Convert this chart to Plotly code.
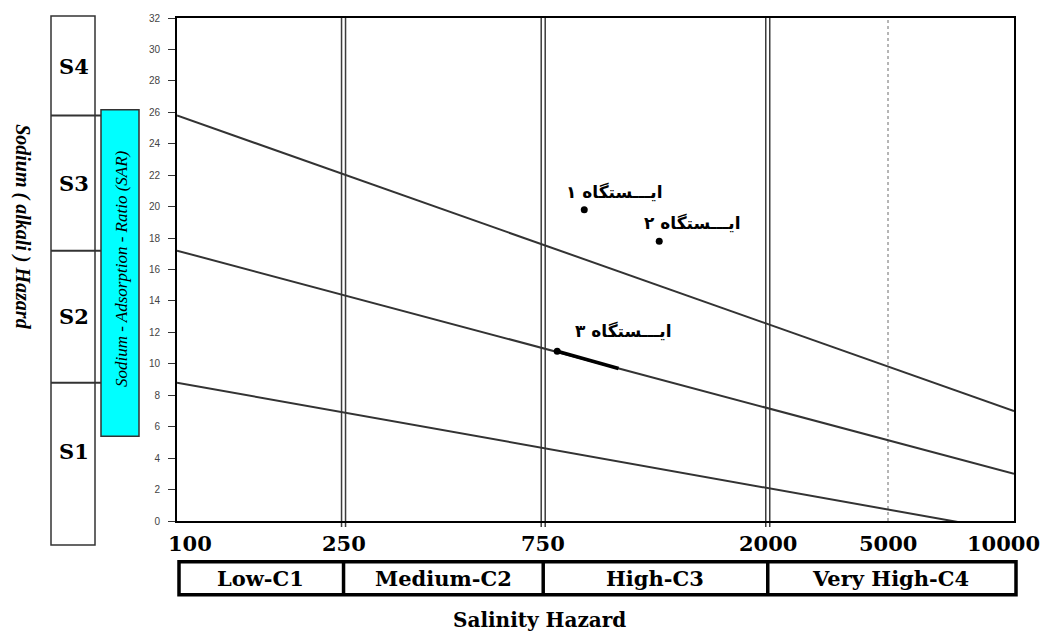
import math
import plotly.graph_objects as go

# ---- salinity (EC) axis: label positions and class boundaries ----
ec_tick_pos = [100, 250, 750, 2580, 5000, 10000]
ec_tick_text = ["100", "250", "750", "2000", "5000", "10000"]
class_edges = [100, 250, 750, 2580, 10000]
salinity_classes = ["Low-C1", "Medium-C2", "High-C3", "Very High-C4"]

# ---- sodium hazard boundary lines: SAR at EC = 100 and EC = 10000 ----
line_ec = [100, 10000]
sar_s3_s4 = [25.8, 7.0]
sar_s2_s3 = [17.2, 3.0]
sar_s1_s2 = [8.8, -0.7]
sodium_classes = ["S1", "S2", "S3", "S4"]

# ---- sampling stations ----
station_names = ["ایـــستگاه ۱", "ایـــستگاه ۲", "ایـــستگاه ۳"]
station_ec = [940, 1420, 810]
station_sar = [19.8, 17.8, 10.8]
# short bold stretch running along the S2/S3 line from station 3
trend3_ec = [810, 1135]
trend3_sar = [10.8, 9.7]

W, H = 1041, 632
ML, MR, MT, MB = 177, 27, 16, 111
PW, PH = W - ML - MR, H - MT - MB


def px_x(p):
    """page pixel column -> paper x"""
    return (p - ML) / PW


def px_y(p):
    """page pixel row -> paper y"""
    return (H - MB - p) / PH


SERIF_B = "DejaVu Serif"
DARK = "#333333"

fig = go.Figure()

# hazard boundary lines
for sar in (sar_s3_s4, sar_s2_s3, sar_s1_s2):
    fig.add_trace(go.Scatter(x=line_ec, y=sar, mode="lines",
                             line=dict(color=DARK, width=2),
                             hoverinfo="skip", showlegend=False))

fig.add_trace(go.Scatter(x=trend3_ec, y=trend3_sar, mode="lines",
                         line=dict(color="black", width=3.5),
                         hoverinfo="skip", showlegend=False))

fig.add_trace(go.Scatter(x=station_ec, y=station_sar, mode="markers",
                         marker=dict(color="black", size=7),
                         showlegend=False))

shapes = []
# double vertical lines at the salinity class boundaries
for edge in class_edges[1:-1]:
    shapes.append(dict(type="line", xref="x", yref="paper", x0=edge, x1=edge,
                       y0=-0.012, y1=1, layer="below",
                       line=dict(color="#3c3c3c", width=5.5)))
    shapes.append(dict(type="line", xref="x", yref="paper", x0=edge, x1=edge,
                       y0=-0.012, y1=1, layer="below",
                       line=dict(color="white", width=2.5)))
# dotted line at 5000
shapes.append(dict(type="line", xref="x", yref="paper", x0=5000, x1=5000,
                   y0=0, y1=1, layer="below",
                   line=dict(color="#b5b5b5", width=2, dash="dot")))

# sodium class column on the left
shapes.append(dict(type="rect", xref="paper", yref="paper",
                   x0=px_x(51), x1=px_x(95), y0=px_y(545), y1=px_y(14),
                   line=dict(color=DARK, width=1.5), fillcolor="white"))
for sar in (sar_s3_s4, sar_s2_s3, sar_s1_s2):
    shapes.append(dict(type="line", xref="paper", yref="y",
                       x0=px_x(51), x1=px_x(101), y0=sar[0], y1=sar[0],
                       line=dict(color=DARK, width=2)))
# SAR legend bar
shapes.append(dict(type="rect", xref="paper", yref="paper",
                   x0=px_x(101), x1=px_x(139), y0=px_y(436), y1=px_y(108),
                   line=dict(color=DARK, width=1.5), fillcolor="#00FFFF"))

# salinity class strip below the axis
strip_y0, strip_y1 = px_y(595), px_y(562)
shapes.append(dict(type="rect", xref="paper", yref="paper",
                   x0=px_x(179), x1=px_x(1016), y0=strip_y0, y1=strip_y1,
                   line=dict(color="black", width=3.5)))
for edge in class_edges[1:-1]:
    shapes.append(dict(type="line", xref="x", yref="paper", x0=edge, x1=edge,
                       y0=strip_y0, y1=strip_y1,
                       line=dict(color="black", width=3.5)))

annotations = []
# x tick labels
x_label_shift = {0: 13, len(ec_tick_pos) - 1: -11}
for i, (pos, txt) in enumerate(zip(ec_tick_pos, ec_tick_text)):
    annotations.append(dict(x=math.log10(pos), y=px_y(544), xref="x", yref="paper",
                            text=f"<b>{txt}</b>", showarrow=False,
                            xanchor="center", yanchor="middle",
                            xshift=x_label_shift.get(i, 0),
                            font=dict(family=SERIF_B, size=21, color="black")))
# salinity class names
for i, name in enumerate(salinity_classes):
    mid = (math.log10(class_edges[i]) + math.log10(class_edges[i + 1])) / 2
    annotations.append(dict(x=mid, y=(strip_y0 + strip_y1) / 2, xref="x", yref="paper",
                            text=f"<b>{name}</b>", showarrow=False,
                            xanchor="center", yanchor="middle",
                            font=dict(family=SERIF_B, size=21, color="black")))
annotations.append(dict(x=px_x(539), y=px_y(620), xref="paper", yref="paper",
                        text="<b>Salinity Hazard</b>", showarrow=False,
                        xanchor="center", yanchor="middle",
                        font=dict(family=SERIF_B, size=20, color="black")))

# sodium class names, centred between boundaries
bounds = [0, sar_s1_s2[0], sar_s2_s3[0], sar_s3_s4[0], 32]
for i, name in enumerate(sodium_classes):
    annotations.append(dict(x=px_x(74), y=(bounds[i] + bounds[i + 1]) / 2,
                            xref="paper", yref="y", text=f"<b>{name}</b>",
                            showarrow=False, xanchor="center", yanchor="middle",
                            font=dict(family=SERIF_B, size=21, color="black")))

annotations.append(dict(x=px_x(121), y=px_y(268), xref="paper", yref="paper",
                        text="<i>Sodium - Adsorption - Ratio (SAR)</i>",
                        textangle=-90, showarrow=False,
                        xanchor="center", yanchor="middle",
                        font=dict(family="Liberation Serif", size=17, color="black")))
annotations.append(dict(x=px_x(23), y=px_y(225), xref="paper", yref="paper",
                        text="<b><i>Sodium ( alkali ) Hazard</i></b>",
                        textangle=90, showarrow=False,
                        xanchor="center", yanchor="middle",
                        font=dict(family="Liberation Serif", size=20, color="black")))

# station labels
label_shift = [(30, 18), (33, 18), (66, 20)]
for name, ec, sar, (dx, dy) in zip(station_names, station_ec, station_sar, label_shift):
    annotations.append(dict(x=math.log10(ec), y=sar, xref="x", yref="y",
                            text=f"<b>{name}</b>", showarrow=False,
                            xanchor="center", yanchor="middle",
                            xshift=dx, yshift=dy,
                            font=dict(family="DejaVu Sans", size=17, color="black")))

fig.update_layout(
    width=W, height=H,
    margin=dict(l=ML, r=MR, t=MT, b=MB, pad=0),
    paper_bgcolor="white", plot_bgcolor="white",
    showlegend=False,
    shapes=shapes, annotations=annotations,
    xaxis=dict(type="log", range=[2, 4], showgrid=False, zeroline=False,
               showticklabels=False, ticks="",
               showline=True, mirror=True, linecolor="black", linewidth=2),
    yaxis=dict(range=[0, 32], dtick=2, tick0=0, showgrid=False, zeroline=False,
               ticks="outside", ticklen=7, tickwidth=1, tickcolor=DARK,
               ticklabelstandoff=6,
               tickfont=dict(family="Liberation Sans", size=10, color="#444444"),
               showline=True, mirror=True, linecolor="black", linewidth=2),
)

fig.write_html("out.html")
